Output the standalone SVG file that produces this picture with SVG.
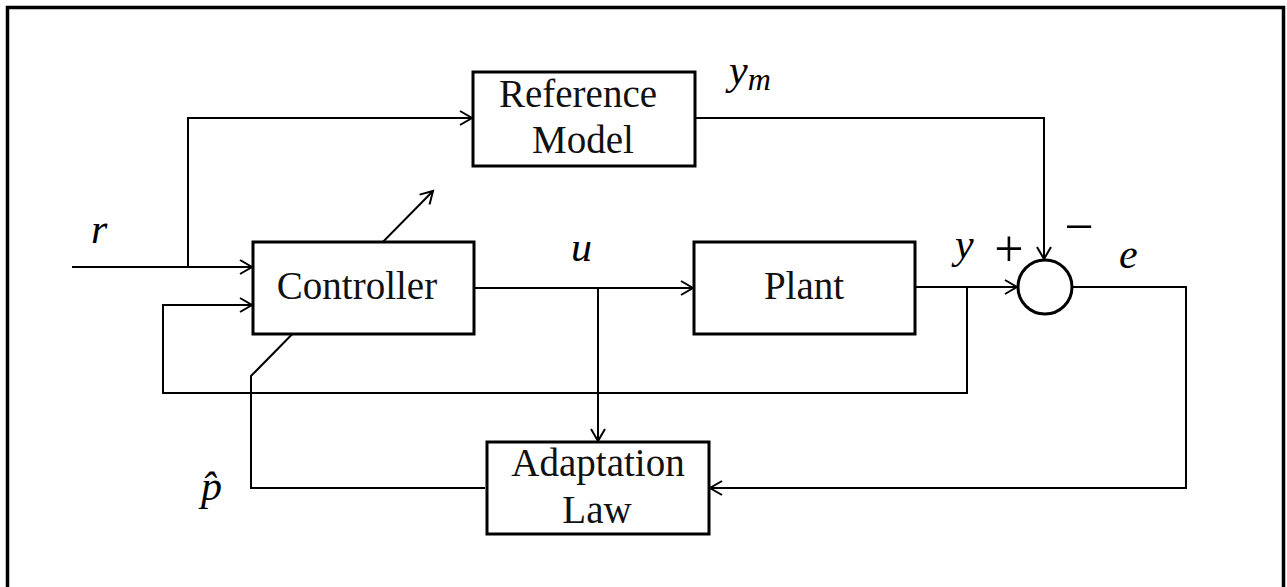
<svg xmlns="http://www.w3.org/2000/svg" width="1287" height="587" viewBox="0 0 1287 587">
<style>
.box{fill:#fff;stroke:#000;stroke-width:3}
.ln{fill:none;stroke:#000;stroke-width:2}
.lbl{font-family:"Liberation Serif","Times New Roman",serif;font-size:39px;fill:#111;text-anchor:middle}
.m{font-family:"Liberation Serif","Times New Roman",serif;font-style:italic;font-size:42px;fill:#000}
.op{font-family:"Liberation Serif","Times New Roman",serif;font-size:52px;fill:#000;text-anchor:middle}
</style>
<defs>
<marker id="arr" markerUnits="userSpaceOnUse" markerWidth="20" markerHeight="20" viewBox="-14 -10 16 20" refX="0" refY="0" orient="auto">
<path d="M-12,-7 L0,0 L-12,7" fill="none" stroke="#000" stroke-width="2"/>
</marker>
</defs>
<rect x="0" y="0" width="1287" height="587" fill="#fff"/>
<rect id="frame" x="7.5" y="7.5" width="1276" height="600" fill="none" stroke="#000" stroke-width="3.5"/>
<g id="connectors">
<path class="ln" d="M72,267 H252" marker-end="url(#arr)"/>
<path class="ln" d="M188,267 V118 H472" marker-end="url(#arr)"/>
<path class="ln" d="M474,288 H693" marker-end="url(#arr)"/>
<path class="ln" d="M598,288 V441" marker-end="url(#arr)"/>
<path class="ln" d="M915,287 H1017" marker-end="url(#arr)"/>
<path class="ln" d="M695,118 H1044 V259" marker-end="url(#arr)"/>
<path class="ln" d="M967,287 V393 H163 V305 H252" marker-end="url(#arr)"/>
<path class="ln" d="M1072,287 H1186 V488 H710" marker-end="url(#arr)"/>
<path class="ln" d="M485,488 H251 V376 L433,191" marker-end="url(#arr)"/>
</g>
<g id="reference-model">
<rect class="box" x="473" y="72" width="222" height="94"/>
<text class="lbl" x="578" y="107">Reference</text>
<text class="lbl" x="583" y="153">Model</text>
</g>
<g id="controller">
<rect class="box" x="253" y="242" width="221" height="92"/>
<text class="lbl" x="357" y="299">Controller</text>
</g>
<g id="plant">
<rect class="box" x="694" y="242" width="221" height="92"/>
<text class="lbl" x="804" y="299">Plant</text>
</g>
<g id="adaptation-law">
<rect class="box" x="487" y="442" width="222" height="92"/>
<text class="lbl" x="598" y="476">Adaptation</text>
<text class="lbl" x="597" y="523">Law</text>
</g>
<g id="sum">
<circle cx="1045" cy="287" r="27" fill="#fff" stroke="#000" stroke-width="3"/>
</g>
<g id="labels">
<text class="m" x="91" y="243">r</text>
<text class="m" x="571" y="261">u</text>
<text class="m" x="729" y="84">y<tspan font-size="32" dy="6">m</tspan></text>
<text class="m" x="955" y="258">y</text>
<text class="op" x="1009" y="266">+</text>
<text class="op" x="1079" y="244">−</text>
<text class="m" x="1119" y="268">e</text>
<text class="m" x="201" y="500">p̂</text>
</g>
</svg>
